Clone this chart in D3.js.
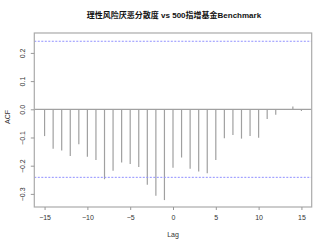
<!DOCTYPE html>
<html lang="zh">
<head>
<meta charset="utf-8">
<title>ACF</title>
<script src="https://d3js.org/d3.v7.min.js"></script>
<style>
  body { margin: 0; background: #fff; }
  text { font-family: "Liberation Sans", "Noto Sans CJK SC", sans-serif; }
</style>
</head>
<body>
<script>
// lags and cross-correlation values
var lags = d3.range(-15, 16);
var acfValues = [-0.095, -0.140, -0.146, -0.166, -0.124, -0.168, -0.180, -0.248,
                 -0.218, -0.189, -0.194, -0.205, -0.268, -0.307, -0.322, -0.207,
                 -0.171, -0.211, -0.221, -0.227, -0.180, -0.103, -0.091, -0.104,
                 -0.095, -0.101, -0.034, -0.019, -0.002, 0.010, -0.006];
var ciBand = [0.2413, -0.2413];
var xTicks = [-15, -10, -5, 0, 5, 10, 15];
var yTicks = [-0.3, -0.2, -0.1, 0.0, 0.1, 0.2];
var title = "理性风险厌恶分散度 vs 500指增基金Benchmark";

var w = 331, h = 249;
var plotLeft = 34.3, plotRight = 311.7, plotTop = 33, plotBottom = 207;

var svg = d3.select("body").append("svg")
  .attr("width", w).attr("height", h);

var x = d3.scaleLinear().domain([-16.2, 16.2]).range([plotLeft, plotRight]);
var y = d3.scaleLinear().domain([-0.3465, 0.2706]).range([plotBottom, plotTop]);

// zero line
svg.append("line")
  .attr("x1", plotLeft).attr("x2", plotRight)
  .attr("y1", y(0)).attr("y2", y(0))
  .attr("stroke", "#8a8a8a").attr("stroke-width", 1);

// bars
svg.selectAll(".bar")
  .data(lags)
  .enter().append("line")
  .attr("class", "bar")
  .attr("x1", function(d) { return x(d); })
  .attr("x2", function(d) { return x(d); })
  .attr("y1", y(0))
  .attr("y2", function(d, i) { return y(acfValues[i]); })
  .attr("stroke", "#a0a0a0").attr("stroke-width", 1.2);

// confidence lines
svg.selectAll(".ci")
  .data(ciBand)
  .enter().append("line")
  .attr("class", "ci")
  .attr("x1", plotLeft).attr("x2", plotRight)
  .attr("y1", function(d) { return y(d); })
  .attr("y2", function(d) { return y(d); })
  .attr("stroke", "#9090ff").attr("stroke-width", 1)
  .attr("stroke-dasharray", "2,1.5");

// box
svg.append("rect")
  .attr("x", plotLeft).attr("y", plotTop)
  .attr("width", plotRight - plotLeft).attr("height", plotBottom - plotTop)
  .attr("fill", "none").attr("stroke", "#aaaaaa").attr("stroke-width", 1.2);

// x axis
var xAxis = svg.append("g")
  .attr("transform", "translate(0," + plotBottom + ")")
  .call(d3.axisBottom(x).tickValues(xTicks).tickSize(3).tickPadding(5).tickSizeOuter(0));
xAxis.select(".domain").remove();
xAxis.selectAll("line").attr("stroke", "#999");
xAxis.selectAll("text").attr("fill", "#333").style("font-size", "7px");

// y axis
var yAxis = svg.append("g")
  .attr("transform", "translate(" + plotLeft + ",0)")
  .call(d3.axisLeft(y).tickValues(yTicks).tickSize(3.5).tickFormat(d3.format(".1f")));
yAxis.select(".domain").remove();
yAxis.selectAll("line").attr("stroke", "#999");
yAxis.selectAll("text")
  .attr("fill", "#333").style("font-size", "7px")
  .attr("text-anchor", "middle")
  .attr("x", 0).attr("dy", 0)
  .attr("transform", "translate(-9.5,0) rotate(-90)");

// labels
svg.append("text")
  .attr("x", (plotLeft + plotRight) / 2 + 1).attr("y", 17.5)
  .attr("text-anchor", "middle")
  .style("font-size", "8px").style("font-weight", "bold")
  .attr("fill", "#111")
  .text(title);

svg.append("text")
  .attr("x", (plotLeft + plotRight) / 2).attr("y", 237)
  .attr("text-anchor", "middle")
  .style("font-size", "7px").attr("fill", "#333")
  .text("Lag");

svg.append("text")
  .attr("transform", "translate(9.5," + 117 + ") rotate(-90)")
  .attr("text-anchor", "middle")
  .style("font-size", "7px").attr("fill", "#333")
  .text("ACF");
</script>
</body>
</html>
